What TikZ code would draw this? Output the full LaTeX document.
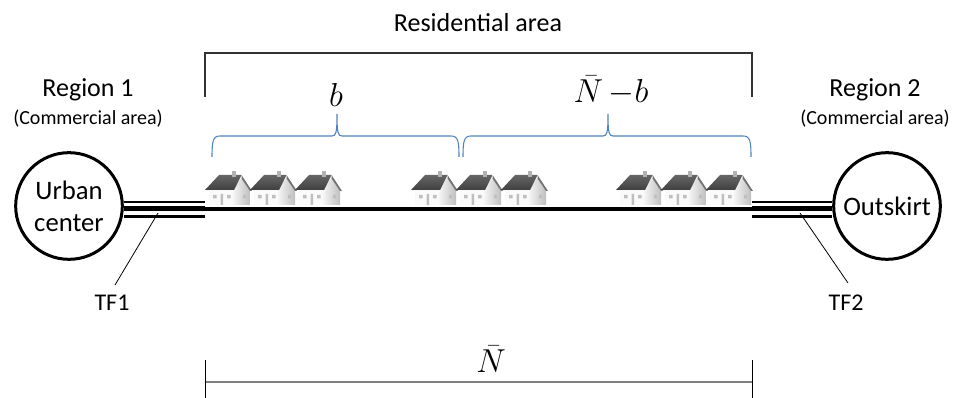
\documentclass[tikz,border=0pt]{standalone}
\usepackage{fontspec}
\setmainfont{Carlito}
\usetikzlibrary{positioning,calc}
\definecolor{braceblue}{RGB}{79,129,189}

% curly brace with its tip pointing up: left end, tip, right end
\newcommand{\tipbrace}[3]{%
  \draw[brace] (#1,157) .. controls (#1,141) and (#1+1,136) .. (#1+8,136)
    -- (#2-5,136) .. controls (#2-1,136) and (#2,133) .. (#2,114)
    .. controls (#2,133) and (#2+1,136) .. (#2+5,136)
    -- (#3-8,136) .. controls (#3-1,136) and (#3,141) .. (#3,157);}

\tikzset{
  hub/.style={circle, draw, line width=2.25pt, minimum size=80pt, inner sep=0pt,
    align=center, font=\fontsize{20}{24}\selectfont},
  road/.style={line width=3pt},
  tie/.style={line width=1.9pt},
  tie main/.style={line width=3.75pt},
  leader/.style={line width=0.6pt},
  tag/.style={font=\fontsize{18}{21}\selectfont, inner sep=1pt, anchor=north},
  region/.style={font=\fontsize{19.5}{23}\selectfont, anchor=base},
  note/.style={font=\fontsize{15}{18}\selectfont, anchor=base},
  count/.style={font=\fontsize{25}{30}\selectfont, anchor=base, inner sep=0pt},
  brace/.style={braceblue, line width=0.8pt},
  bracket/.style={gray!40!black, line width=1.1pt},
  measure/.style={gray, line width=2pt},
  house/.pic={
    % gable end
    \shade[left color=gray!8, right color=gray!50]
      (4,0) -- (21,0) -- (21,-15) -- (12.5,-27) -- (4,-16) -- cycle;
    % long wall
    \fill[gray!4] (-20,0) rectangle (4,-16);
    % windows and door
    \fill[gray!50] (-16,-10) rectangle (-12.5,-6.5) (-2,-10) rectangle (1.5,-6.5)
      (-8.5,-11) rectangle (-6,0) (14,-10) rectangle (17,-6.5);
    % roof
    \shade[top color=black!60, bottom color=black!75]
      (-24,-15) -- (5,-15) -- (12.5,-30) -- (-10,-30) -- cycle;
    \fill[black!55] (12.5,-30) -- (23,-14) -- (21,-14) -- (12.5,-26.5) -- cycle;
    % chimney
    \fill[gray!60] (3,-34) rectangle (6.5,-28);
  },
}

\begin{document}
\begin{tikzpicture}[x=0.75pt, y=-0.75pt]
\useasboundingbox (0,0) rectangle (955,398);

% the two commercial regions
\node[hub] (urban) at (69,206) {Urban\\center};
\node[hub] (outskirt) at (887,206) {Outskirt};
\node[region] (reg1) at (88,97) {Region 1};
\node[note]   (com1) at (88,125) {(Commercial area)};
\node[region] (reg2) at (875,97) {Region 2};
\node[note]   (com2) at (875,125) {(Commercial area)};

% residential road
\coordinate (roadW) at (205,209);
\coordinate (roadE) at (752,209);
\draw[road] (roadW) -- (roadE);

% tie lines into the regions
\draw[tie]      ($(urban.east |- roadW)+(0,-7)$)  -- ($(roadW)+(0,-7)$);
\draw[tie main] (urban.east |- roadW)             -- (roadW);
\draw[tie]      ($(urban.east |- roadW)+(0,7.5)$) -- ($(roadW)+(0,7.5)$);
\draw[tie]      ($(roadE)+(0,-7)$)  -- ($(outskirt.west |- roadE)+(0,-7)$);
\draw[tie main] (roadE)             -- (outskirt.west |- roadE);
\draw[tie]      ($(roadE)+(0,7.5)$) -- ($(outskirt.west |- roadE)+(0,7.5)$);

% transformer labels
\coordinate (tf1tap) at (158,213);
\coordinate (tf1end) at (115,285);
\coordinate (tf2tap) at (800,213);
\coordinate (tf2end) at (848,283);
\node[tag] (tf1) at (112,293) {TF1};
\node[tag] (tf2) at (846,293) {TF2};
\draw[leader] (tf1tap) -- (tf1end);
\draw[leader] (tf2tap) -- (tf2end);

% houses along the road
\foreach \hx in {229,274,319,435,480,525,640,685,730}
  \pic at (\hx,205) {house};

% residential area bracket
\node[region] (res) at (478,32) {Residential area};
\draw[bracket] (205,97) -- (205,53) -- (752,53) -- (752,97);

% split of the households
\tipbrace{212}{337}{459}
\tipbrace{463}{608}{751}
\node[count] (nb)  at (336,107) {$b$};
\node[count] (nnb) at (611,103) {$\bar{N}\,{-}b$};

% total length
\draw[measure] (205,382) -- (752,382);
\draw[line width=0.7pt] (205,360) -- (205,398) (752,360) -- (752,398);
\node[count, font=\fontsize{23}{28}\selectfont] (ntot) at (491,373) {$\bar{N}$};
\end{tikzpicture}
\end{document}
